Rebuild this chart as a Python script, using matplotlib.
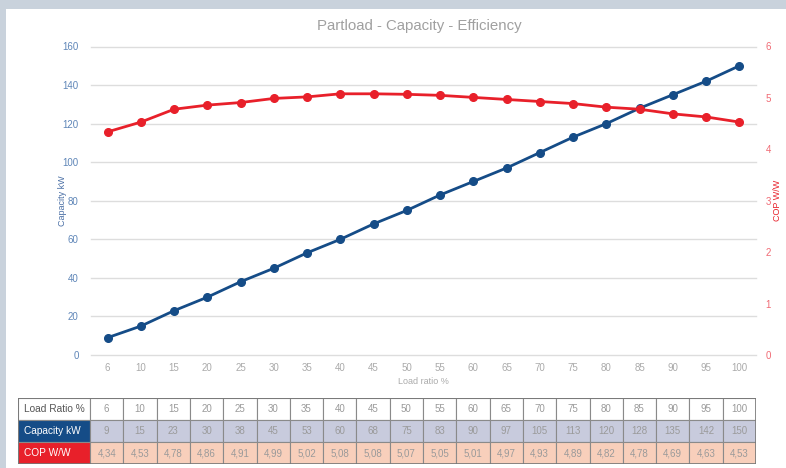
import numpy as np
import matplotlib.pyplot as plt
from matplotlib.patches import Rectangle

plt.rcParams['font.family'] = ['Liberation Sans', 'DejaVu Sans']

load_ratio = [6, 10, 15, 20, 25, 30, 35, 40, 45, 50, 55, 60, 65, 70, 75, 80, 85, 90, 95, 100]
capacity_kw = [9, 15, 23, 30, 38, 45, 53, 60, 68, 75, 83, 90, 97, 105, 113, 120, 128, 135, 142, 150]
cop_ww = [4.34, 4.53, 4.78, 4.86, 4.91, 4.99, 5.02, 5.08, 5.08, 5.07, 5.05, 5.01, 4.97, 4.93,
          4.89, 4.82, 4.78, 4.69, 4.63, 4.53]

blue = '#154c87'
red = '#e8202a'
W, H = 786, 468

fig = plt.figure(figsize=(W / 100, H / 100), dpi=100, facecolor='#c9d2dc')
# white panel
fig.patches.append(Rectangle((6 / W, 0), 1 - 6 / W, 1 - 9 / H, transform=fig.transFigure,
                             facecolor='white', edgecolor='none', zorder=-10))

def px_axes(x0, y0, x1, y1):
    return fig.add_axes([x0 / W, 1 - y1 / H, (x1 - x0) / W, (y1 - y0) / H])

ax = px_axes(91, 46.5, 756, 355)
ax.set_facecolor('none')
x = np.arange(len(load_ratio))
ax.set_xlim(-0.5, len(x) - 0.5)
ax.set_ylim(0, 160)
ax.set_yticks(range(0, 161, 20))
for yv in range(0, 161, 20):
    ax.axhline(yv, color='#dddddd', linewidth=1, zorder=0, clip_on=False)
for s in ax.spines.values():
    s.set_visible(False)
ax.tick_params(length=0)
ax.tick_params(axis='y', labelcolor='#5f86b8', labelsize=7, pad=9)
ax.tick_params(axis='x', labelcolor='#aaaaaa', labelsize=7, pad=6)
ax.set_xticks(x)
ax.set_xticklabels([str(v) for v in load_ratio])
ax.set_xlabel('Load ratio %', color='#aaaaaa', fontsize=6.5, labelpad=3)
ax.set_ylabel('Capacity kW', color='#4a6fa5', fontsize=6.5)
ax.yaxis.set_label_coords(-24 / 665, 0.5)
ax.plot(x, capacity_kw, color=blue, linewidth=2, marker='o', markersize=5.5, zorder=3)

ax2 = ax.twinx()
ax2.set_ylim(0, 6)
ax2.set_yticks(range(0, 7))
for s in ax2.spines.values():
    s.set_visible(False)
ax2.tick_params(length=0, labelcolor='#f06a74', labelsize=7, pad=7)
ax2.set_ylabel('COP W/W', color=red, fontsize=6.5)
ax2.yaxis.set_label_coords(1 + 17 / 665, 0.5)
ax2.plot(x, cop_ww, color=red, linewidth=2, marker='o', markersize=5.5, zorder=3)

fig.text(419 / W, 1 - 26 / H, 'Partload - Capacity - Efficiency', color='#a0a0a0',
         fontsize=10.8, ha='center', va='center')

# data table under the chart
step = 665 / 20
head_w = (90 - 18) / step
tab = px_axes(18, 398, 756, 464)
tab.set_xlim(-0.5 - head_w, len(x) - 0.5)
tab.set_ylim(0, 3)
tab.axis('off')
rows = [
    ('Load Ratio %', [str(v) for v in load_ratio], 'white', '#555555', 'white'),
    ('Capacity kW', [str(v) for v in capacity_kw], blue, 'white', '#c8cbdd'),
    ('COP W/W', [f'{v:.2f}'.replace('.', ',') for v in cop_ww], red, 'white', '#f8cfbb'),
]
edge = '#8a8a8a'
for r, (head, vals, hbg, hfg, cbg) in enumerate(rows):
    y0 = 2 - r
    tab.add_patch(Rectangle((-0.5 - head_w, y0), head_w, 1, facecolor=hbg,
                            edgecolor=edge, linewidth=0.8))
    tab.text(-0.5 - head_w + 6 / step, y0 + 0.5, head, color=hfg, fontsize=7.3,
             ha='left', va='center')
    for i, v in enumerate(vals):
        tab.add_patch(Rectangle((i - 0.5, y0), 1, 1, facecolor=cbg,
                                edgecolor=edge, linewidth=0.8))
        tab.text(i, y0 + 0.5, v, color='#9a9a9a', fontsize=7, ha='center', va='center')
tab.add_patch(Rectangle((-0.5 - head_w, 0), head_w + len(x), 3, facecolor='none',
                        edgecolor='#777777', linewidth=1.2))

fig.savefig('out.png', dpi=100, facecolor=fig.get_facecolor())
